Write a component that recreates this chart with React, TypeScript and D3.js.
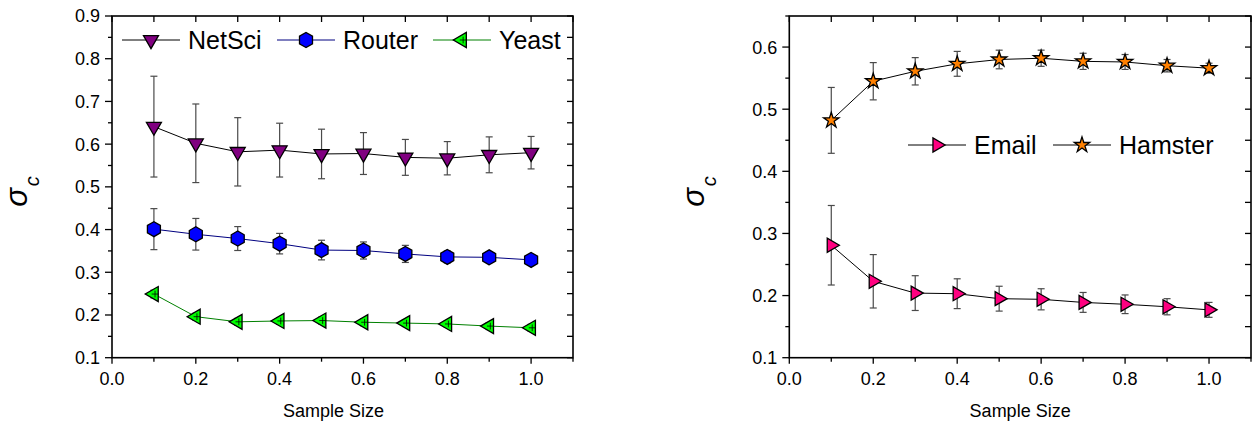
import * as d3 from "d3";

// sample sizes shared by every series
const sampleSize = [0.1, 0.2, 0.3, 0.4, 0.5, 0.6, 0.7, 0.8, 0.9, 1.0];

// left panel
const netSci = [0.641, 0.602, 0.582, 0.586, 0.577, 0.578, 0.569, 0.567, 0.575, 0.58];
const netSciErr = [0.118, 0.092, 0.08, 0.063, 0.058, 0.049, 0.042, 0.039, 0.042, 0.038];
const router = [0.401, 0.389, 0.379, 0.367, 0.352, 0.351, 0.343, 0.336, 0.335, 0.329];
const routerErr = [0.048, 0.037, 0.028, 0.024, 0.023, 0.02, 0.02, 0.014, 0.012, 0.009];
const yeast = [0.249, 0.196, 0.184, 0.186, 0.187, 0.183, 0.181, 0.179, 0.174, 0.17];
const yeastErr = [0.009, 0.008, 0.008, 0.008, 0.008, 0.008, 0.008, 0.008, 0.008, 0.008];

// right panel
const email = [0.281, 0.223, 0.204, 0.203, 0.195, 0.194, 0.189, 0.186, 0.182, 0.177];
const emailErr = [0.064, 0.043, 0.028, 0.024, 0.02, 0.017, 0.016, 0.015, 0.013, 0.012];
const hamster = [0.482, 0.545, 0.561, 0.573, 0.58, 0.582, 0.577, 0.576, 0.57, 0.566];
const hamsterErr = [0.053, 0.03, 0.022, 0.02, 0.015, 0.013, 0.013, 0.012, 0.01, 0.008];

const xMajor = [0, 0.2, 0.4, 0.6, 0.8, 1.0];
const xMinor = [0.1, 0.3, 0.5, 0.7, 0.9, 1.1];
const leftYMajor = [0.1, 0.2, 0.3, 0.4, 0.5, 0.6, 0.7, 0.8, 0.9];
const leftYMinor = [0.15, 0.25, 0.35, 0.45, 0.55, 0.65, 0.75, 0.85];
const rightYMajor = [0.1, 0.2, 0.3, 0.4, 0.5, 0.6];
const rightYMinor = [0.15, 0.25, 0.35, 0.45, 0.55, 0.65];

const FONT = "'Liberation Sans', Arial, sans-serif";

type Marker = "triDown" | "hex" | "triLeft" | "triRight" | "star";

function markerPath(kind: Marker, r: number) {
  if (kind === "star") return d3.symbol(d3.symbolStar, r * r * 1.15)()!;
  if (kind === "hex") {
    const pts = d3.range(6).map((i) => {
      const a = Math.PI / 2 + (i * Math.PI) / 3;
      return [r * Math.cos(a), r * Math.sin(a)];
    });
    return "M" + pts.map((p) => p.join(",")).join("L") + "Z";
  }
  const h = r * 1.73;
  // equilateral triangle, centroid at origin, apex pointing down
  let pts = [
    [-r, -h / 3],
    [r, -h / 3],
    [0, (2 * h) / 3],
  ];
  if (kind === "triRight") pts = pts.map(([x, y]) => [y, x]);
  if (kind === "triLeft") pts = pts.map(([x, y]) => [-y, x]);
  return "M" + pts.map((p) => p.join(",")).join("L") + "Z";
}

interface Series {
  name: string;
  values: number[];
  err: number[];
  marker: Marker;
  fill: string;
  line: string;
  r: number;
}

const leftSeries: Series[] = [
  { name: "NetSci", values: netSci, err: netSciErr, marker: "triDown", fill: "#800080", line: "#000000", r: 7.5 },
  { name: "Router", values: router, err: routerErr, marker: "hex", fill: "#0000ff", line: "#000080", r: 7.5 },
  { name: "Yeast", values: yeast, err: yeastErr, marker: "triLeft", fill: "#00ff00", line: "#008000", r: 7.5 },
];
const rightSeries: Series[] = [
  { name: "Email", values: email, err: emailErr, marker: "triRight", fill: "#ff0080", line: "#000000", r: 7 },
  { name: "Hamster", values: hamster, err: hamsterErr, marker: "star", fill: "#ff8000", line: "#000000", r: 8 },
];

function MarkerShape({ s, x, y, r }: { s: Series; x: number; y: number; r: number }) {
  return (
    <g transform={`translate(${x},${y})`}>
      <path d={markerPath(s.marker, r)} fill={s.fill} stroke="#000" strokeWidth={1.3} strokeLinejoin="miter" />
      {s.marker === "triLeft" && (
        <g stroke="#000" strokeWidth={0.8}>
          <line x1={-r * 0.3} x2={r * 0.6} y1={0} y2={0} />
          <line x1={r * 0.15} x2={r * 0.15} y1={-r * 0.45} y2={r * 0.45} />
        </g>
      )}
    </g>
  );
}

interface PanelProps {
  left: number;
  right: number;
  top: number;
  bottom: number;
  yDomain: [number, number];
  yMajor: number[];
  yMinor: number[];
  series: Series[];
  legendStarts: number[];
  legendY: number;
  titleShift: number;
}

function Panel(p: PanelProps) {
  const x = d3.scaleLinear().domain([0, 1.1]).range([p.left, p.right]);
  const y = d3.scaleLinear().domain(p.yDomain).range([p.bottom, p.top]);
  const line = d3
    .line<number>()
    .x((_, i) => x(sampleSize[i]))
    .y((d) => y(d));

  const allX = [...xMajor, ...xMinor];
  const allY = [...p.yMajor, ...p.yMinor];

  return (
    <g>
      {/* error bars */}
      {p.series.map((s) => (
        <g key={s.name + "err"} stroke="#4a4a4a" strokeWidth={1.2}>
          {s.values.map((v, i) => {
            const cx = x(sampleSize[i]);
            const y1 = y(v + s.err[i]);
            const y2 = y(v - s.err[i]);
            return (
              <g key={i}>
                <line x1={cx} x2={cx} y1={y1} y2={y2} />
                <line x1={cx - 3.5} x2={cx + 3.5} y1={y1} y2={y1} />
                <line x1={cx - 3.5} x2={cx + 3.5} y1={y2} y2={y2} />
              </g>
            );
          })}
        </g>
      ))}
      {/* lines */}
      {p.series.map((s) => (
        <path key={s.name + "line"} d={line(s.values)!} fill="none" stroke={s.line} strokeWidth={1} />
      ))}
      {/* markers */}
      {p.series.map((s) => (
        <g key={s.name + "mk"}>
          {s.values.map((v, i) => (
            <MarkerShape key={i} s={s} x={x(sampleSize[i])} y={y(v)} r={s.r} />
          ))}
        </g>
      ))}

      {/* frame */}
      <rect x={p.left} y={p.top} width={p.right - p.left} height={p.bottom - p.top} fill="none" stroke="#000" strokeWidth={1.6} />

      {/* ticks */}
      <g stroke="#000" strokeWidth={1.3}>
        {p.yMajor.map((t) => (
          <line key={"ly" + t} x1={p.left - 7} x2={p.left} y1={y(t)} y2={y(t)} />
        ))}
        {p.yMinor.map((t) => (
          <line key={"lym" + t} x1={p.left - 4} x2={p.left} y1={y(t)} y2={y(t)} />
        ))}
        {allY.map((t) => (
          <line key={"ry" + t} x1={p.right - 6} x2={p.right} y1={y(t)} y2={y(t)} />
        ))}
        {xMajor.map((t) => (
          <line key={"bx" + t} x1={x(t)} x2={x(t)} y1={p.bottom} y2={p.bottom + 6} />
        ))}
        {xMinor.map((t) => (
          <line key={"bxm" + t} x1={x(t)} x2={x(t)} y1={p.bottom} y2={p.bottom + 4} />
        ))}
        {allX.map((t) => (
          <line key={"tx" + t} x1={x(t)} x2={x(t)} y1={p.top} y2={p.top + 6} />
        ))}
      </g>

      {/* tick labels */}
      <g fontFamily={FONT} fontSize={18} fill="#000">
        {p.yMajor.map((t) => (
          <text key={"lt" + t} x={p.left - 12} y={y(t)} dy="0.36em" textAnchor="end">
            {d3.format(".1f")(t)}
          </text>
        ))}
        {xMajor.map((t) => (
          <text key={"bt" + t} x={x(t)} y={p.bottom + 27} textAnchor="middle">
            {d3.format(".1f")(t)}
          </text>
        ))}
        <text x={(p.left + p.right) / 2 + p.titleShift} y={417} textAnchor="middle">
          Sample Size
        </text>
      </g>

      {/* y title */}
      <text
        transform={`translate(${p.left - 85},${(p.top + p.bottom) / 2 + 20}) rotate(-90)`}
        fontFamily={FONT}
        fontStyle="italic"
        fontSize={31}
      >
        σ
        <tspan fontSize={20} dy={12} dx={2}>
          c
        </tspan>
      </text>

      {/* legend */}
      {p.series.map((s, i) => {
        const start = p.legendStarts[i];
        return (
          <g key={s.name + "lg"}>
            <line x1={start} x2={start + 58} y1={p.legendY} y2={p.legendY} stroke={s.line} strokeWidth={1} />
            <MarkerShape s={s} x={start + 29} y={p.legendY} r={s.r} />
            <text x={start + 66} y={p.legendY + 9} fontFamily={FONT} fontSize={25}>
              {s.name}
            </text>
          </g>
        );
      })}
    </g>
  );
}

export default function App() {
  return (
    <svg width={1257} height={423} style={{ position: "absolute", left: 0, top: 0, background: "#fff" }}>
      <Panel
        left={112}
        right={573}
        top={16}
        bottom={357.7}
        yDomain={[0.1, 0.9]}
        yMajor={leftYMajor}
        yMinor={leftYMinor}
        series={leftSeries}
        legendStarts={[122, 277, 433]}
        legendY={40}
        titleShift={-9}
      />
      <Panel
        left={789.3}
        right={1251}
        top={16}
        bottom={357.7}
        yDomain={[0.1, 0.65]}
        yMajor={rightYMajor}
        yMinor={rightYMinor}
        series={rightSeries}
        legendStarts={[908, 1053]}
        legendY={145}
        titleShift={0}
      />
    </svg>
  );
}
